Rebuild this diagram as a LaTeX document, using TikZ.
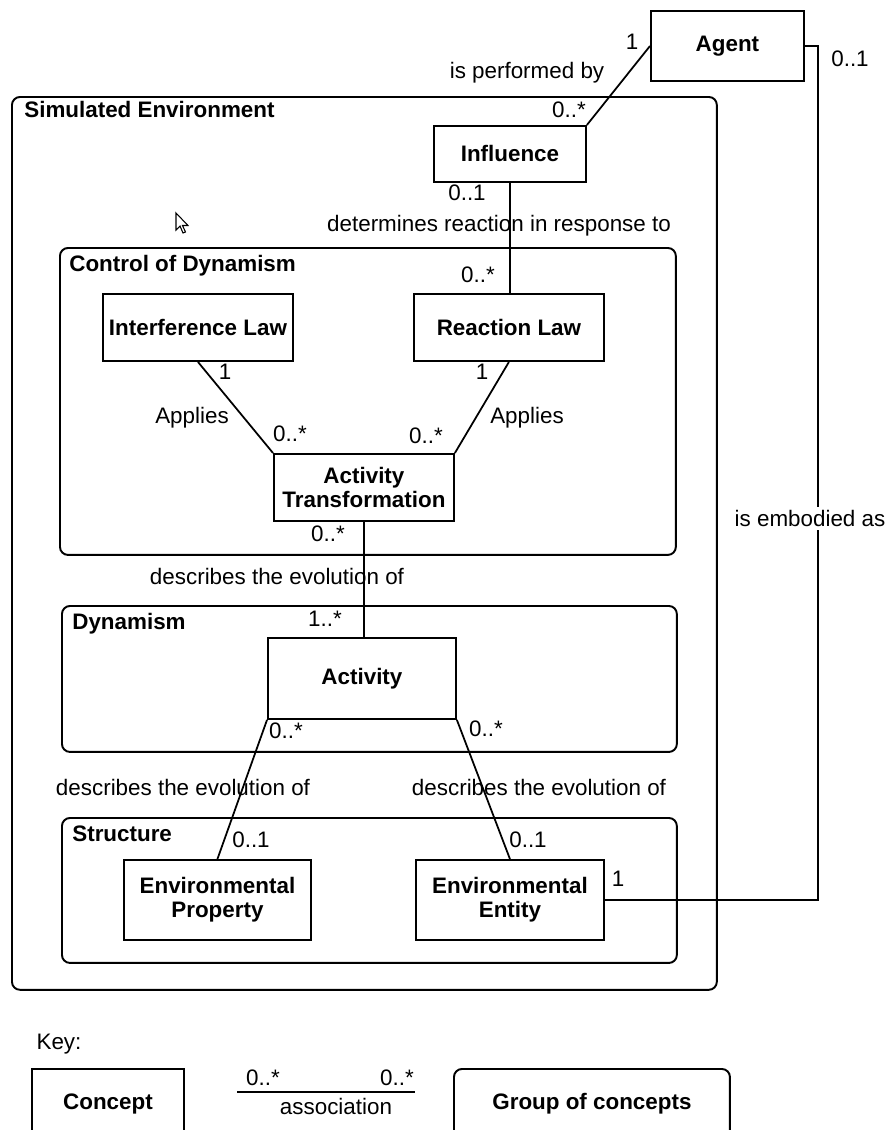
\documentclass[tikz,border=0pt]{standalone}
\usepackage{fontspec}
\setmainfont{Liberation Sans}
\newcommand\umlfont{\fontsize{12.75pt}{13.6pt}\selectfont}
\begin{document}
\begin{tikzpicture}[x=0.02cm,y=-0.02cm,
  concept/.style={draw,line width=1.1pt,inner sep=0,anchor=north west,align=center,font=\umlfont\bfseries},
  grp/.style={draw,line width=1.1pt,rounded corners=0.16cm,inner sep=0,anchor=north west},
  grptitle/.style={inner sep=0,anchor=mid west,font=\umlfont\bfseries},
  lbl/.style={inner sep=0,anchor=mid,font=\umlfont},
  assoc/.style={line width=1pt}
  ]
  \useasboundingbox (0,0) rectangle (887,1130);
  \clip (0,0) rectangle (887,1130);
  % 
  % Groups
  % 
  \node(simenv)[grp,minimum width=14.1cm, minimum height=17.86cm]at (11,96) {};
  \node(ctrl)  [grp,minimum width=12.32cm,minimum height=6.14cm] at (59,247) {};
  \node(dyn)   [grp,minimum width=12.3cm, minimum height=2.92cm] at (61,605) {};
  \node(struct)[grp,minimum width=12.3cm, minimum height=2.9cm]  at (61,817) {};
  \node(simenvT)[grptitle]at (24,113) {Simulated Environment};
  \node(ctrlT)  [grptitle]at (69,267) {Control of Dynamism};
  \node(dynT)   [grptitle]at (72,625) {Dynamism};
  \node(structT)[grptitle]at (72,837) {Structure};
  % 
  % Concepts
  % 
  \node(agent)    [concept,minimum width=3.06cm,minimum height=1.4cm] at (650,10) {Agent};
  \node(influence)[concept,minimum width=3.04cm,minimum height=1.12cm]at (433,125){Influence};
  \node(interf)   [concept,minimum width=3.8cm, minimum height=1.34cm]at (102,293){Interference Law};
  \node(reaction) [concept,minimum width=3.8cm, minimum height=1.34cm]at (413,293){Reaction Law};
  \node(acttrans) [concept,minimum width=3.6cm, minimum height=1.34cm]at (273,453){Activity\\Transformation};
  \node(activity) [concept,minimum width=3.76cm,minimum height=1.62cm]at (267,637){Activity};
  \node(envprop)  [concept,minimum width=3.74cm,minimum height=1.6cm] at (123,859){Environmental\\Property};
  \node(entity)   [concept,minimum width=3.76cm,minimum height=1.6cm] at (415,859){Environmental\\Entity};
  % 
  % Associations
  % 
  % agent - influence
  \draw[assoc] (agent.west) -- (influence.north east);
  % agent - entity
  \draw[assoc] (agent.east) -- ++(13,0) |- (entity.east);
  % influence - reaction
  \draw[assoc] (influence.south) -- (influence.south |- reaction.north);
  % interf - acttrans
  \draw[assoc] (interf.south) -- (acttrans.north west);
  % reaction - acttrans
  \draw[assoc] (reaction.south) -- (acttrans.north east);
  % acttrans - activity
  \draw[assoc] (acttrans.south) -- (acttrans.south |- activity.north);
  % activity - envprop
  \draw[assoc] (activity.south west) -- (envprop.north);
  % activity - entity
  \draw[assoc] (activity.south east) -- (entity.north);
  % 
  % Association labels
  % 
  \node(mAgentInfl)[lbl]at (632,45) {1};
  \node(performed) [lbl]at (527,74) {is performed by};
  \node(mInflAgent)[lbl]at (569,113){0..*};
  \node(mAgentEnt) [lbl]at (850,62) {0..1};
  \node(embodied)  [lbl,fill=white,inner ysep=2pt]at (810,522){is embodied as};
  \node(mEntAgent) [lbl]at (618,882){1};
  \node(mReactInfl)[lbl]at (467,196){0..1};
  \node(determines)[lbl]at (499,227){determines reaction in response to};
  \node(mInflReact)[lbl]at (478,278){0..*};
  \node(mInterf)   [lbl]at (225,375){1};
  \node(appliesL)  [lbl]at (192,419){Applies};
  \node(mActInterf)[lbl]at (290,437){0..*};
  \node(mReact)    [lbl]at (482,375){1};
  \node(appliesR)  [lbl]at (527,419){Applies};
  \node(mActReact) [lbl]at (426,439){0..*};
  \node(mActDown)  [lbl]at (328,537){0..*};
  \node(descTop)   [lbl]at (277,580){describes the evolution of};
  \node(mActivity) [lbl]at (325,622){1..*};
  \node(mActProp)  [lbl]at (286,734){0..*};
  \node(mActEnt)   [lbl]at (486,732){0..*};
  \node(descL)     [lbl]at (183,791){describes the evolution of};
  \node(descR)     [lbl]at (539,791){describes the evolution of};
  \node(mProp)     [lbl]at (251,843){0..1};
  \node(mEnt)      [lbl]at (528,843){0..1};
  % mouse pointer
  \draw[line width=0.6pt,fill=white] (176,213) -- (176,230) -- (180,226) -- (183,233)
    -- (185.5,232) -- (182.5,225.5) -- (188,225.5) -- cycle;
  % 
  % Key
  % 
  \node(keyT)[lbl]at (59,1045){Key:};
  \node(keyConcept)[concept,minimum width=3.04cm,minimum height=1.4cm]at (31,1068){Concept};
  \node(keyGroup)[grp,minimum width=5.52cm,minimum height=1.4cm,font=\umlfont\bfseries]at (453,1068){Group of concepts};
  \coordinate(keyA) at (237,1092);
  \coordinate(keyB) at (415,1092);
  \draw[assoc] (keyA) -- (keyB);
  \node(keyMA)[lbl]at (263,1081){0..*};
  \node(keyMB)[lbl]at (397,1081){0..*};
  \node(keyAssoc)[lbl]at (336,1110){association};
\end{tikzpicture}
\end{document}
